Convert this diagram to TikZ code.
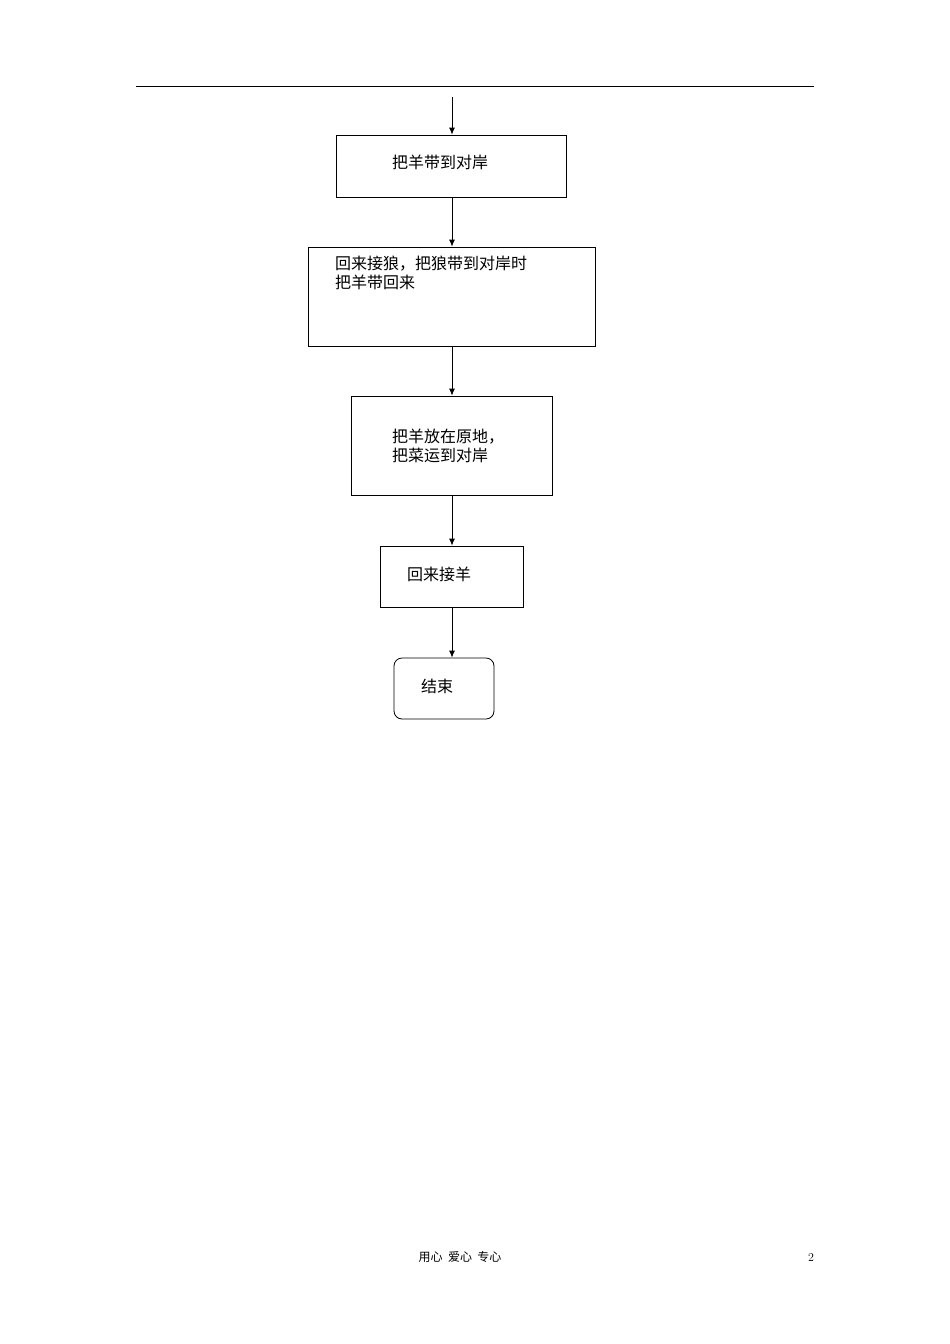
\documentclass[tikz,border=0pt]{standalone}
\usepackage{fontspec}
\newfontfamily\cjk{Noto Sans CJK SC}
\begin{document}
\begin{tikzpicture}[x=1pt,y=-1pt,
  box/.style={draw,line width=0.8pt},
  arr/.style={-{Latex[length=7pt,width=6pt]},line width=0.8pt},
  lbl/.style={font=\cjk\fontsize{16}{19}\selectfont,inner sep=0pt,anchor=west,align=left}]
\usetikzlibrary{arrows.meta}
\useasboundingbox (0,0) rectangle (950,1344);
\draw[line width=0.8pt] (136,86) -- (814,86);
\node[box,minimum width=230,minimum height=62] (b1) at (451,166) {};
\node[box,minimum width=287,minimum height=99] (b2) at (451.5,296.5) {};
\node[box,minimum width=201,minimum height=99] (b3) at (451.5,445.5) {};
\node[box,minimum width=143,minimum height=61] (b4) at (451.5,576.5) {};
\node[box,rounded corners=8pt,minimum width=100,minimum height=61] (b5) at (444,688.5) {};
\coordinate (s) at (452,97);
\node[lbl] (t1) at (392,162) {把羊带到对岸};
\node[lbl,anchor=north west] (t2) at (335,256) {回来接狼，把狼带到对岸时\\把羊带回来};
\node[lbl] (t3) at (392,446) {把羊放在原地，\\把菜运到对岸};
\node[lbl] (t4) at (407,574) {回来接羊};
\node[lbl] (t5) at (421,686) {结束};
\draw[arr] (s) -- (b1.north -| s);
\draw[arr] (b1.south -| s) -- (b2.north -| s);
\draw[arr] (b2.south -| s) -- (b3.north -| s);
\draw[arr] (b3.south -| s) -- (b4.north -| s);
\draw[arr] (b4.south -| s) -- (b5.north -| s);
\node[font=\cjk\fontsize{12}{14}\selectfont] (f) at (460,1257) {用心\ \ 爱心\ \ 专心};
\node[font=\fontsize{12}{14}\selectfont] (p) at (811,1257) {2};
\end{tikzpicture}
\end{document}
